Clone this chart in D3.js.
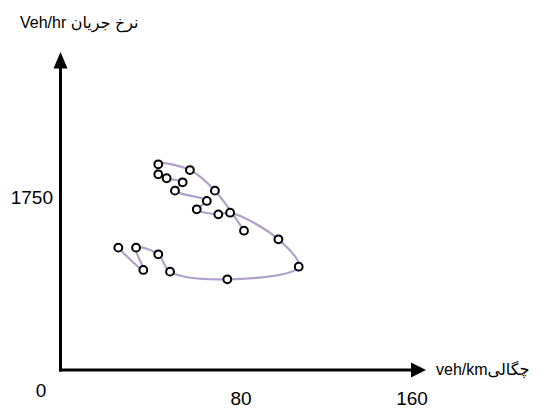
<!DOCTYPE html>
<html>
<head>
<meta charset="utf-8">
<script src="https://cdn.jsdelivr.net/npm/d3@7"></script>
<style>
  html, body { margin: 0; padding: 0; background: #fff; }
  text { font-family: "Liberation Sans", "DejaVu Sans", sans-serif; fill: #000; }
</style>
</head>
<body>
<svg id="chart" width="548" height="408"></svg>
<script>
// ---- data (in trajectory order) ----
const density = [22.6, 34.3, 30.9, 41.3, 46.8, 73.6, 107.0, 97.5, 74.9, 69.4, 59.3, 64.0, 49.1, 52.7, 45.2, 41.3, 41.3, 56.1, 67.8, 81.4];
const flow    = [1234, 1009, 1234, 1167, 992, 915, 1042, 1318, 1587, 1570, 1621, 1705, 1809, 1893, 1934, 1974, 2075, 2017, 1809, 1405];
const xTicks = [80, 160];
const yTicks = [1750];
const xOrigin = "0";
const xTitle = "veh/kmچگالی";
const yTitle = "Veh/hr نرخ جریان";

const points = density.map((d, i) => ({ x: d, y: flow[i] }));

const svg = d3.select("#chart");
const x = d3.scaleLinear().domain([80, 160]).range([241, 412]);
const y = d3.scaleLinear().domain([0, 1750]).range([370, 196.5]);

const axisX = 60.5;
const axisY = y(0);
const axisColor = "#000";
// y axis line + arrow
svg.append("line").attr("x1", axisX).attr("x2", axisX)
  .attr("y1", axisY + 1.5).attr("y2", 66)
  .attr("stroke", axisColor).attr("stroke-width", 3);
svg.append("path")
  .attr("d", `M${axisX},52 L${axisX - 7},68.5 L${axisX + 7},68.5 Z`)
  .attr("fill", axisColor);
// x axis line + arrow
svg.append("line").attr("x1", axisX - 1.5).attr("x2", 413)
  .attr("y1", axisY).attr("y2", axisY)
  .attr("stroke", axisColor).attr("stroke-width", 3);
svg.append("path")
  .attr("d", `M426,${axisY} L411,${axisY - 7.5} L411,${axisY + 7.5} Z`)
  .attr("fill", axisColor);

// tick labels
svg.append("text").attr("x", 41).attr("y", 397).attr("text-anchor", "middle")
  .attr("font-size", 19).text(xOrigin);
svg.selectAll(".xt").data(xTicks).enter().append("text")
  .attr("x", d => x(d)).attr("y", 405).attr("text-anchor", "middle")
  .attr("font-size", 19).text(d => d);
svg.selectAll(".yt").data(yTicks).enter().append("text")
  .attr("x", 53).attr("y", d => y(d) + 7).attr("text-anchor", "end")
  .attr("font-size", 19).text(d => d);

// axis titles
svg.append("text").attr("x", 20).attr("y", 28).attr("font-size", 16).text(yTitle);
svg.append("text").attr("x", 436).attr("y", 375).attr("font-size", 16).text(xTitle);

// trajectory line
const line = d3.line().x(d => x(d.x)).y(d => y(d.y)).curve(d3.curveCatmullRom.alpha(0.5));
svg.append("path").datum(points).attr("d", line)
  .attr("fill", "none").attr("stroke", "#b0a2cd").attr("stroke-width", 2.2);

// markers
svg.selectAll(".pt").data(points).enter().append("circle")
  .attr("cx", d => x(d.x)).attr("cy", d => y(d.y)).attr("r", 3.9)
  .attr("fill", "#fff").attr("stroke", "#000").attr("stroke-width", 2);
</script>
</body>
</html>
